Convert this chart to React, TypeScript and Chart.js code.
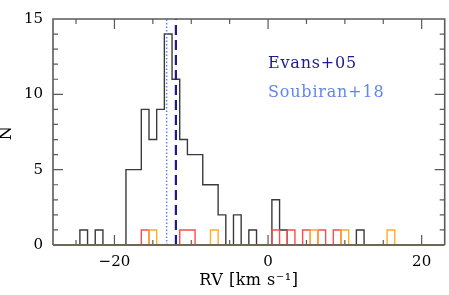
import React, { useEffect, useRef } from "react";
import { Chart, registerables } from "chart.js";

Chart.register(...registerables);

// Histogram bins (1 km/s wide, centred on integers)
const binCenters = [
  -27, -26, -25, -24, -23, -22, -21, -20, -19, -18,
  -17, -16, -15, -14, -13, -12, -11, -10, -9, -8,
  -7, -6, -5, -4, -3, -2, -1, 0, 1, 2,
  3, 4, 5, 6, 7, 8, 9, 10, 11, 12,
  13, 14, 15, 16, 17, 18, 19, 20, 21, 22,
];
const blackCounts = [
  0, 0, 0, 1, 0, 1, 0, 0, 0, 5,
  5, 9, 7, 9, 14, 11, 7, 6, 6, 4,
  4, 2, 0, 2, 0, 1, 0, 0, 3, 1,
  0, 0, 0, 0, 0, 0, 0, 0, 0, 1,
  0, 0, 0, 0, 0, 0, 0, 0, 0, 0,
];
const redCounts = [
  0, 0, 0, 0, 0, 0, 0, 0, 0, 0,
  0, 1, 0, 0, 0, 0, 1, 1, 0, 0,
  0, 0, 0, 0, 0, 0, 0, 0, 1, 0,
  1, 0, 1, 0, 1, 0, 1, 0, 0, 0,
  0, 0, 0, 0, 0, 0, 0, 0, 0, 0,
];
const orangeCounts = [
  0, 0, 0, 0, 0, 0, 0, 0, 0, 0,
  0, 0, 1, 0, 0, 0, 0, 0, 0, 0,
  1, 0, 0, 0, 0, 0, 0, 0, 0, 0,
  0, 0, 0, 1, 0, 0, 0, 1, 0, 0,
  0, 0, 0, 1, 0, 0, 0, 0, 0, 0,
];

const xRange = [-28, 23];
const yRange = [0, 15];
const xTickValues = [-20, 0, 20];
const yTickValues = [0, 5, 10, 15];
const evansRV = -12.0;
const soubiranRV = -13.2;
const legendLabels = ["Evans+05", "Soubiran+18"];
const legendX = [0, 0];
const legendY = [11.75, 9.8];
const xTitle = "RV [km s\u207B\u00B9]";
const yTitle = "N";

const FONT = "'DejaVu Serif', serif";
const FRAME = "#5a5a5a";
const NAVY = "#1c1c8c";
const LIGHTBLUE = "#6286f0";

function stepPoints(centers: number[], counts: number[]) {
  const pts: { x: number; y: number }[] = [];
  pts.push({ x: centers[0] - 0.5, y: 0 });
  centers.forEach((c, i) => pts.push({ x: c - 0.5, y: counts[i] }));
  pts.push({ x: centers[centers.length - 1] + 0.5, y: counts[counts.length - 1] });
  pts.push({ x: centers[centers.length - 1] + 0.5, y: 0 });
  return pts;
}

const framePlugin = {
  id: "frameTicks",
  beforeDatasetsDraw(chart: any) {
    const { ctx, chartArea: a, scales } = chart;
    const xs = scales.x;
    const ys = scales.y;
    ctx.save();
    ctx.strokeStyle = FRAME;
    ctx.lineWidth = 1.2;
    ctx.beginPath();
    for (let v = -25; v <= xRange[1]; v += 5) {
      const px = xs.getPixelForValue(v);
      const len = v % 20 === 0 ? 10 : 5;
      ctx.moveTo(px, a.bottom);
      ctx.lineTo(px, a.bottom - len);
      ctx.moveTo(px, a.top);
      ctx.lineTo(px, a.top + len);
    }
    for (let v = 1; v < yRange[1]; v += 1) {
      const py = ys.getPixelForValue(v);
      const len = v % 5 === 0 ? 10 : 5;
      ctx.moveTo(a.left, py);
      ctx.lineTo(a.left + len, py);
      ctx.moveTo(a.right, py);
      ctx.lineTo(a.right - len, py);
    }
    ctx.stroke();
    ctx.restore();
  },
  afterDatasetsDraw(chart: any) {
    const { ctx, chartArea: a } = chart;
    ctx.save();
    ctx.lineWidth = 1.6;
    ctx.strokeStyle = FRAME;
    ctx.beginPath();
    ctx.moveTo(a.left, a.bottom);
    ctx.lineTo(a.left, a.top);
    ctx.lineTo(a.right, a.top);
    ctx.lineTo(a.right, a.bottom);
    ctx.stroke();
    ctx.lineWidth = 2.2;
    ctx.strokeStyle = "#6f6656";
    ctx.beginPath();
    ctx.moveTo(a.left, a.bottom);
    ctx.lineTo(a.right, a.bottom);
    ctx.stroke();
    ctx.restore();
  },
  afterDraw(chart: any) {
    const { ctx, chartArea: a, scales } = chart;
    const xs = scales.x;
    const ys = scales.y;
    ctx.save();
    // legend texts
    ctx.font = `16px ${FONT}`;
    (ctx as any).letterSpacing = "0.8px";
    ctx.textAlign = "left";
    ctx.textBaseline = "alphabetic";
    const colors = [NAVY, LIGHTBLUE];
    legendLabels.forEach((t, i) => {
      ctx.fillStyle = colors[i];
      ctx.fillText(t, xs.getPixelForValue(legendX[i]), ys.getPixelForValue(legendY[i]));
    });
    (ctx as any).letterSpacing = "0.5px";
    // axis titles
    ctx.fillStyle = "#000";
    ctx.font = `16px ${FONT}`;
    ctx.textAlign = "center";
    ctx.textBaseline = "middle";
    ctx.fillText(xTitle, (a.left + a.right) / 2, 281);
    ctx.translate(7, (a.top + a.bottom) / 2 + 1);
    ctx.rotate(-Math.PI / 2);
    ctx.fillText(yTitle, 0, 0);
    ctx.restore();
  },
};

export default function App() {
  const ref = useRef<HTMLCanvasElement | null>(null);
  useEffect(() => {
    if (!ref.current) return;
    const histo = (counts: number[], color: string, order: number) => ({
      data: stepPoints(binCenters, counts),
      borderColor: color,
      borderWidth: 1.4,
      stepped: "before",
      pointRadius: 0,
      fill: false,
      order,
    });
    const chart = new Chart(ref.current, {
      type: "line",
      data: {
        datasets: [
          histo(blackCounts, "#3a3a3a", 5),
          histo(redCounts, "#ff4a4a", 4),
          histo(orangeCounts, "#ffab2e", 3),
          {
            data: [
              { x: soubiranRV, y: yRange[0] },
              { x: soubiranRV, y: yRange[1] },
            ],
            borderColor: LIGHTBLUE,
            borderWidth: 1.5,
            borderDash: [1.5, 2],
            pointRadius: 0,
            fill: false,
            order: 2,
          },
          {
            data: [
              { x: evansRV, y: yRange[0] },
              { x: evansRV, y: yRange[1] },
            ],
            borderColor: NAVY,
            borderWidth: 2.2,
            borderDash: [10, 5],
            pointRadius: 0,
            fill: false,
            order: 1,
          },
        ] as any,
      },
      options: {
        animation: false,
        responsive: true,
        maintainAspectRatio: false,
        layout: { padding: { left: 0, right: 4.3, top: 14, bottom: 0 } },
        plugins: { legend: { display: false }, tooltip: { enabled: false } },
        scales: {
          x: {
            type: "linear",
            min: xRange[0],
            max: xRange[1],
            grid: { display: false, drawTicks: false },
            border: { display: false },
            afterFit: (s: any) => {
              s.height = 50;
            },
            afterBuildTicks: (s: any) => {
              s.ticks = xTickValues.map((v) => ({ value: v }));
            },
            ticks: {
              autoSkip: false,
              maxRotation: 0,
              padding: 8,
              color: "#000",
              font: { family: FONT, size: 15 },
              callback: (v: any) => String(v).replace("-", "\u2212"),
            },
          },
          y: {
            type: "linear",
            min: yRange[0],
            max: yRange[1],
            grid: { display: false, drawTicks: false },
            border: { display: false },
            afterFit: (s: any) => {
              s.width = 53;
            },
            afterBuildTicks: (s: any) => {
              s.ticks = yTickValues.map((v) => ({ value: v }));
            },
            ticks: {
              autoSkip: false,
              padding: 10,
              color: "#000",
              font: { family: FONT, size: 15 },
            },
          },
        },
      },
      plugins: [framePlugin],
    });
    return () => chart.destroy();
  }, []);

  return (
    <div style={{ position: "fixed", left: 0, top: 0, width: 449, height: 295 }}>
      <canvas ref={ref} />
    </div>
  );
}
